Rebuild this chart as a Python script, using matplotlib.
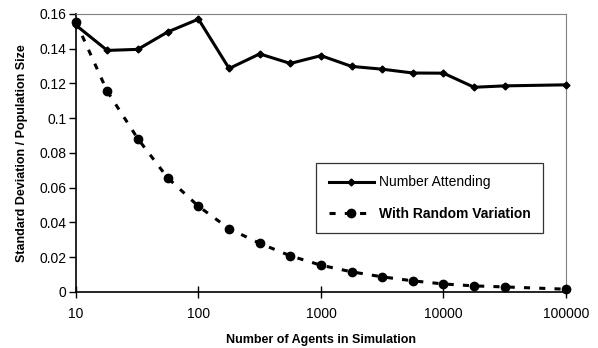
import numpy as np
import matplotlib
matplotlib.use('Agg')
import matplotlib.pyplot as plt

plt.rcParams['font.family'] = ['Liberation Sans', 'DejaVu Sans']

# agenti nella simulazione
agents = [10, 18, 32, 56, 100, 178, 316, 562, 1000, 1778, 3162, 5623,
          10000, 17783, 31623, 100000]
attending = [0.1535, 0.139, 0.1396, 0.1496, 0.157, 0.1286, 0.137, 0.1315,
             0.136, 0.1298, 0.1282, 0.126, 0.1259, 0.1178, 0.1186, 0.1192]
random_var = [0.1554, 0.1155, 0.0882, 0.0657, 0.0493, 0.0364, 0.028, 0.0208,
              0.0154, 0.0116, 0.0087, 0.0064, 0.0046, 0.0035, 0.0029, 0.0016]

fig = plt.figure(figsize=(5.98, 3.48), dpi=100)
ax = fig.add_axes([0.127, 0.161, 0.8195, 0.799])

ax.plot(agents, attending, '-', color='black', lw=2.2, marker='D',
        markersize=3.5, label='Number Attending', clip_on=False, zorder=3)
ax.plot(agents, random_var, '--', color='black', lw=2.2, marker='o',
        markersize=6, dashes=(2, 3), label='With Random Variation',
        clip_on=False, zorder=3)

ax.set_xscale('log')
ax.set_xlim(10, 100000)
ax.set_ylim(0, 0.16)
ax.set_yticks(np.arange(0, 0.161, 0.02))
ax.set_yticklabels(['0', '0.02', '0.04', '0.06', '0.08', '0.1', '0.12', '0.14', '0.16'])
ax.set_xticks([10, 100, 1000, 10000, 100000])
ax.set_xticklabels(['10', '100', '1000', '10000', '100000'])
ax.minorticks_off()

ax.tick_params(axis='y', direction='out', length=5, width=1, labelsize=10, pad=2)
ax.tick_params(axis='x', direction='inout', length=9, width=1, labelsize=10, pad=6)

for s in ['top', 'right']:
    ax.spines[s].set_color('#808080')
for s in ['left', 'bottom']:
    ax.spines[s].set_color('black')
    ax.spines[s].set_linewidth(1.2)

ax.set_xlabel('Number of Agents in Simulation', fontsize=9, fontweight='bold', labelpad=10)
ax.set_ylabel('Standard Deviation / Population Size', fontsize=9, fontweight='bold', labelpad=8)

leg = ax.legend(loc='upper left', bbox_to_anchor=(0.49, 0.464), fontsize=10,
                frameon=True, fancybox=False, edgecolor='black',
                handlelength=3.3, borderpad=0.9, labelspacing=1.25, handletextpad=0.3,
                borderaxespad=0)
leg.get_frame().set_linewidth(0.9)
leg.get_texts()[1].set_fontweight('bold')

fig.savefig('out.png', dpi=100)
